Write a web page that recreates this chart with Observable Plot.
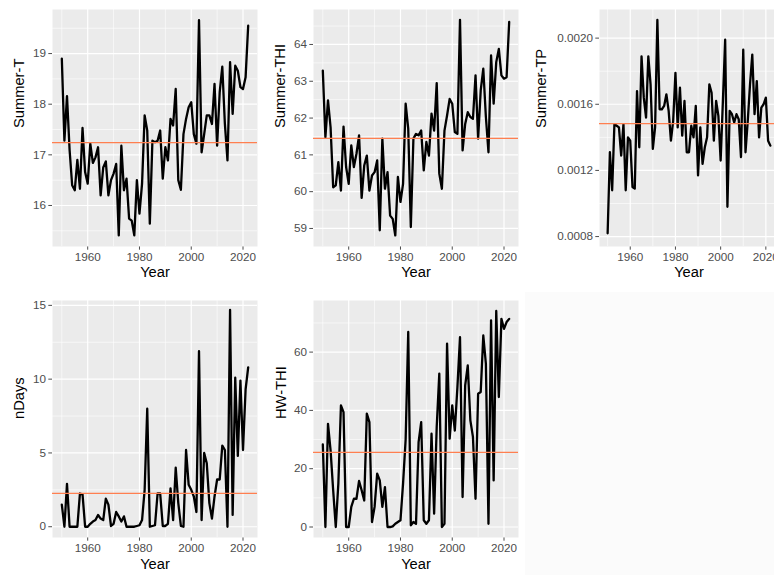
<!DOCTYPE html>
<html>
<head>
<meta charset="utf-8">
<script src="https://cdn.jsdelivr.net/npm/d3@7"></script>
<script src="https://cdn.jsdelivr.net/npm/@observablehq/plot@0.6"></script>
<style>
  html, body { margin: 0; padding: 0; background: #ffffff; }
  #fig { position: relative; width: 774px; height: 575px; overflow: hidden; background: #ffffff; }
  #fig svg { position: absolute; overflow: visible; }
  #blank { position: absolute; left: 525px; top: 292px; width: 249px; height: 283px; background: #fbfbfb; }
</style>
</head>
<body>
<div id="fig"></div>
<script>
// Annual summer indicators, 1950-2022
const years = d3.range(1950, 2023);

const summerT = [
  18.9, 17.28, 18.16, 17.1, 16.4, 16.3, 16.9, 16.33, 17.53, 16.66,
  16.43, 17.22, 16.84, 16.95, 17.15, 16.2, 16.75, 16.87, 16.2, 16.5,
  16.63, 16.82, 15.41, 17.18, 16.3, 16.53, 15.74, 15.7, 15.41, 16.5,
  15.84, 16.43, 17.78, 17.48, 15.64, 17.28, 17.25, 17.28, 17.48, 16.53,
  17.15, 16.89, 17.71, 17.58, 18.3, 16.5, 16.31, 17.41, 17.71, 17.94,
  18.04, 17.41, 17.22, 19.66, 17.05, 17.41, 17.78, 17.78, 17.61, 18.4,
  17.18, 18.24, 18.74, 17.61, 16.89, 18.83, 17.81, 18.76, 18.66, 18.34,
  18.3, 18.53, 19.55
];

const summerTHI = [
  63.29, 61.48, 62.48, 61.75, 60.12, 60.17, 60.8, 60.03, 61.77, 60.67,
  60.21, 61.26, 60.67, 61.03, 61.53, 59.83, 60.71, 60.98, 60.03, 60.44,
  60.53, 60.85, 58.95, 61.44, 60.08, 60.53, 59.35, 59.26, 58.81, 60.4,
  59.72, 60.21, 62.39, 61.71, 59.04, 61.44, 61.57, 61.53, 61.66, 60.58,
  61.35, 60.98, 62.12, 61.66, 62.95, 60.49, 60.08, 61.66, 62.07, 62.52,
  62.39, 61.62, 61.57, 64.67, 61.12, 61.84, 62.16, 62.03, 61.98, 63.16,
  61.44, 62.75, 63.34, 62.03, 61.07, 63.7, 62.39, 63.52, 63.88, 63.16,
  63.07, 63.11, 64.61
];

const summerTP = [
  0.00082, 0.00131, 0.00108, 0.00148, 0.00147, 0.00146, 0.00129, 0.00148, 0.00108, 0.00140,
  0.00138, 0.00110, 0.00109, 0.00168, 0.00134, 0.00189, 0.00164, 0.00152, 0.00189, 0.00172,
  0.00133, 0.00146, 0.00211, 0.00157, 0.00157, 0.00159, 0.00166, 0.00156, 0.00138, 0.00150,
  0.00179, 0.00146, 0.00170, 0.00141, 0.00162, 0.00131, 0.00131, 0.00147, 0.00140, 0.00159,
  0.00117, 0.00146, 0.00124, 0.00134, 0.00140, 0.00172, 0.00167, 0.00138, 0.00162, 0.00153,
  0.00126, 0.00162, 0.00199, 0.00098, 0.00156, 0.00154, 0.00149, 0.00154, 0.00151, 0.00128,
  0.00193, 0.00131, 0.00150, 0.00172, 0.00190, 0.00154, 0.00174, 0.00140, 0.00158, 0.00160,
  0.00164, 0.00138, 0.00135
];

const nDays = [
  1.5, 0, 2.9, 0, 0, 0, 0, 2.25, 2.2, 0,
  0, 0.2, 0.35, 0.45, 0.8, 0.55, 0.45, 1.9, 1.5, 0.05,
  0.2, 1.0, 0.7, 0.35, 0.7, 0, 0, 0, 0, 0.05,
  0.1, 0.45, 2.5, 8.0, 0, 0.05, 0.1, 2.25, 2.25, 0.05,
  0.05, 0.2, 2.6, 0.45, 4.0, 1.6, 0.05, 0, 5.2, 2.85,
  2.5, 2.05, 1.0, 11.9, 0.45, 5.0, 4.3, 1.6, 0.55, 2.05,
  3.2, 3.2, 5.5, 5.2, 0, 14.7, 0.8, 10.1, 4.8, 9.9,
  5.2, 9.3, 10.8
];

const hwTHI = [
  28.3, 0, 35.4, 26.3, 12.6, 0, 14.9, 41.7, 39.4, 0,
  0, 6.9, 9.7, 9.7, 15.8, 12.6, 9.1, 38.9, 36.0, 1.7,
  6.9, 18.3, 16.0, 6.9, 13.7, 0, 0, 0.2, 1.1, 1.7,
  2.3, 14.9, 30.0, 66.9, 0.6, 1.7, 1.1, 29.1, 36.0, 2.3,
  1.1, 2.3, 32.0, 4.6, 34.3, 52.6, 0, 1.1, 62.9, 30.3,
  41.7, 33.1, 48.0, 65.1, 10.3, 48.6, 55.4, 36.6, 30.9, 9.7,
  45.7, 46.3, 65.7, 56.0, 1.1, 70.9, 16.0, 74.1, 44.6, 71.4,
  68.0, 70.3, 71.4
];

// Long-term mean of each indicator (reference lines)
const means = { summerT: 17.24, summerTHI: 61.45, summerTP: 0.001483, nDays: 2.26, hwTHI: 25.6 };

// Axis breaks
const xTicks = [1960, 1980, 2000, 2020];
const xMinor = [1950, 1970, 1990, 2010];
const xDomain = [1946.4, 2025.6];

const fontFamily = '"Liberation Sans", Arial, Helvetica, sans-serif';
const fig = document.getElementById("fig");

function panel(o) {
  const rows = o.values.map((v, i) => ({year: years[i], value: v}));
  const svg = Plot.plot({
    width: o.width,
    height: o.height,
    marginLeft: o.mLeft,
    marginRight: o.width - o.mLeft - o.frameW,
    marginTop: o.mTop,
    marginBottom: o.mBottom,
    x: {domain: xDomain, ticks: xTicks, tickFormat: "d", tickSize: 3.7, tickPadding: 2.8, label: null},
    y: {domain: o.yDomain, ticks: o.yTicks, tickFormat: o.yFormat, tickSize: 3.7, tickPadding: 2.8, label: null},
    style: {fontFamily, fontSize: "11.7px", color: "#4d4d4d", background: "transparent", overflow: "visible"},
    marks: [
      Plot.frame({fill: "#ebebeb", stroke: "none"}),
      Plot.ruleX(xMinor, {stroke: "white", strokeWidth: 0.6}),
      Plot.ruleY(o.yMinor, {stroke: "white", strokeWidth: 0.6}),
      Plot.ruleX(xTicks, {stroke: "white", strokeWidth: 1.2}),
      Plot.ruleY(o.yTicks, {stroke: "white", strokeWidth: 1.2}),
      Plot.line(rows, {x: "year", y: "value", stroke: "black", strokeWidth: 2.3, strokeLinejoin: "round"}),
      Plot.ruleY([o.mean], {stroke: "#ff7f50", strokeWidth: 1.3}),
      Plot.text([o.yTitle], {text: d => d, frameAnchor: "left", dx: o.titleDx, rotate: -90, fontSize: 14.7, fill: "black"}),
      Plot.text(["Year"], {text: d => d, frameAnchor: "bottom", dy: o.yearDy, fontSize: 14.7, fill: "black"})
    ]
  });
  svg.style.left = o.left + "px";
  svg.style.top = o.top + "px";
  fig.appendChild(svg);
}

const row1 = {top: 0, height: 292, mTop: 9, mBottom: 46, yearDy: 30.5};
const row2 = {top: 292, height: 283, mTop: 8, mBottom: 38, yearDy: 31};

panel({...row1, left: 0, width: 262, mLeft: 52, frameW: 205,
  values: summerT, mean: means.summerT, yTitle: "Summer-T", titleDx: -33.5,
  yDomain: [15.19, 19.87], yTicks: [16, 17, 18, 19], yMinor: [15.5, 16.5, 17.5, 18.5, 19.5], yFormat: "d"});

panel({...row1, left: 262, width: 261, mLeft: 51, frameW: 205,
  values: summerTHI, mean: means.summerTHI, yTitle: "Summer-THI", titleDx: -33,
  yDomain: [58.51, 64.95], yTicks: [59, 60, 61, 62, 63, 64], yMinor: [59.5, 60.5, 61.5, 62.5, 63.5, 64.5], yFormat: "d"});

panel({...row1, left: 523, width: 260, mLeft: 76, frameW: 179,
  values: summerTP, mean: means.summerTP, yTitle: "Summer-TP", titleDx: -58,
  yDomain: [0.00074, 0.002173], yTicks: [0.0008, 0.0012, 0.0016, 0.0020], yMinor: [0.0010, 0.0014, 0.0018], yFormat: ".4f"});

panel({...row2, left: 0, width: 262, mLeft: 52, frameW: 205,
  values: nDays, mean: means.nDays, yTitle: "nDays", titleDx: -33,
  yDomain: [-0.73, 15.33], yTicks: [0, 5, 10, 15], yMinor: [2.5, 7.5, 12.5], yFormat: "d"});

panel({...row2, left: 262, width: 261, mLeft: 51, frameW: 205,
  values: hwTHI, mean: means.hwTHI, yTitle: "HW-THI", titleDx: -32,
  yDomain: [-3.6, 77.7], yTicks: [0, 20, 40, 60], yMinor: [10, 30, 50, 70], yFormat: "d"});

// Empty sixth cell of the grid
const blank = document.createElement("div");
blank.id = "blank";
fig.appendChild(blank);
</script>
</body>
</html>
